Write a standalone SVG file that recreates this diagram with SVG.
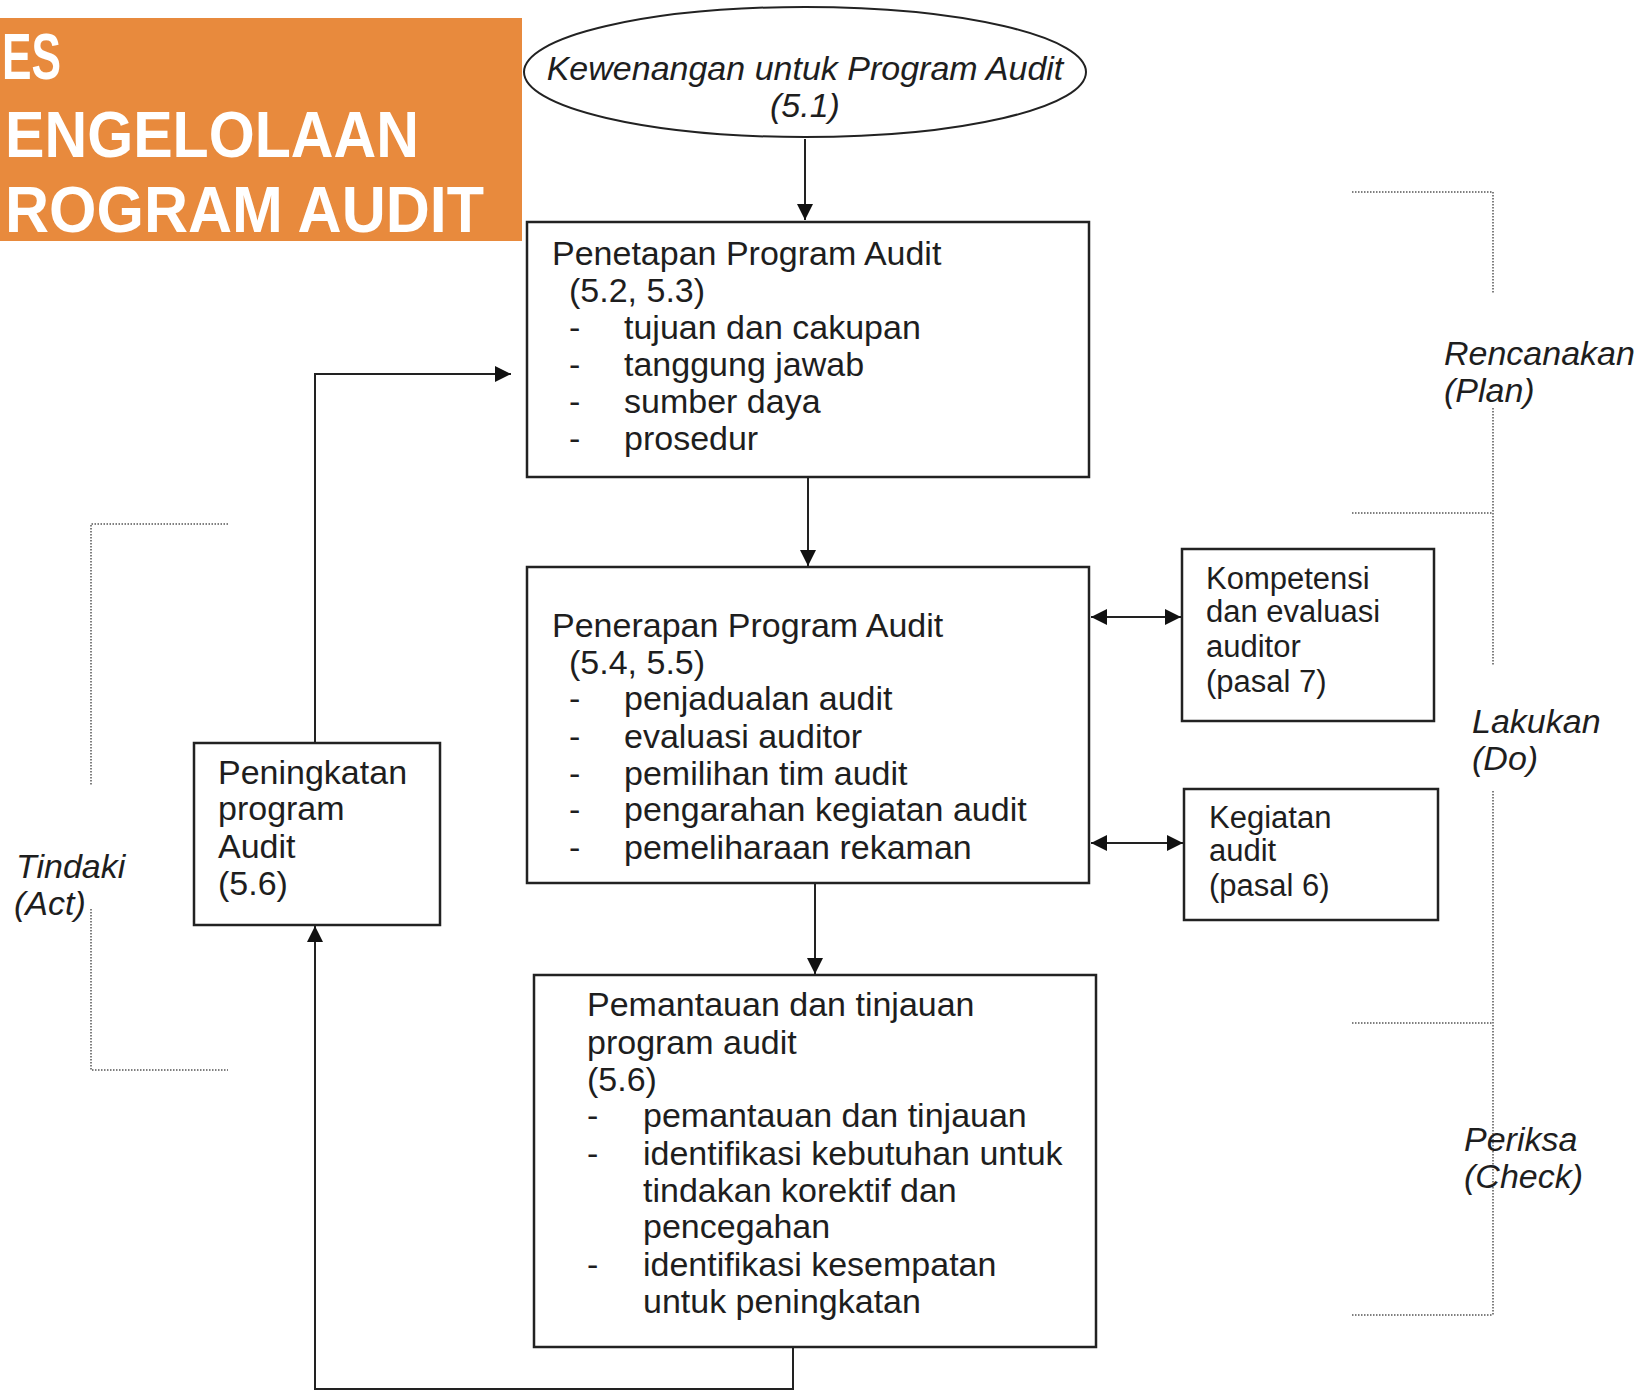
<svg xmlns="http://www.w3.org/2000/svg" width="1643" height="1390" viewBox="0 0 1643 1390">
<style>
.t{font-family:"Liberation Sans",Arial,sans-serif;font-size:34px;fill:#1e1e1e}
.s{font-family:"Liberation Sans",Arial,sans-serif;font-size:31px;fill:#1e1e1e}
.i{font-family:"Liberation Sans",Arial,sans-serif;font-size:34px;font-style:italic;fill:#1e1e1e}
.b{fill:#fff;stroke:#222;stroke-width:2.5}
.c{fill:none;stroke:#222;stroke-width:2}
.d{fill:none;stroke:#555;stroke-width:1.5;stroke-dasharray:1.5 1.5}
.h{font-family:"Liberation Sans",Arial,sans-serif;font-weight:bold;font-size:64px;fill:#fff}
</style>
<defs>
<marker id="ah" viewBox="0 0 10 10" refX="10" refY="5" markerWidth="16" markerHeight="16" markerUnits="userSpaceOnUse" orient="auto-start-reverse"><path d="M0,0L10,5L0,10z" fill="#111"/></marker>
</defs>
<rect width="1643" height="1390" fill="#fff"/>
<g id="banner">
<rect x="0" y="18" width="522" height="223" fill="#E88A3D"/>
<text class="h" x="2" y="79" textLength="59" lengthAdjust="spacingAndGlyphs">ES</text>
<text class="h" x="5" y="157" textLength="414" lengthAdjust="spacingAndGlyphs">ENGELOLAAN</text>
<text class="h" x="5" y="232" textLength="479" lengthAdjust="spacingAndGlyphs">ROGRAM AUDIT</text>
</g>
<g id="connectors">
<line class="c" x1="805" y1="139" x2="805" y2="220" marker-end="url(#ah)"/>
<line class="c" x1="808" y1="477" x2="808" y2="566" marker-end="url(#ah)"/>
<line class="c" x1="815" y1="883" x2="815" y2="974" marker-end="url(#ah)"/>
<line class="c" x1="1091" y1="617" x2="1181" y2="617" marker-start="url(#ah)" marker-end="url(#ah)"/>
<line class="c" x1="1091" y1="843" x2="1183" y2="843" marker-start="url(#ah)" marker-end="url(#ah)"/>
<polyline class="c" points="315,743 315,374 511,374" marker-end="url(#ah)"/>
<polyline class="c" points="793,1347 793,1389 315,1389 315,926" marker-end="url(#ah)"/>
</g>
<g id="authority">
<ellipse cx="805" cy="72" rx="281" ry="65" fill="#fff" stroke="#222" stroke-width="2"/>
<text class="i" x="805" y="80" text-anchor="middle">Kewenangan untuk Program Audit</text>
<text class="i" x="805" y="117" text-anchor="middle">(5.1)</text>
</g>
<g id="penetapan">
<rect class="b" x="527" y="222" width="562" height="255"/>
<text class="t" x="552" y="265">Penetapan Program Audit</text>
<text class="t" x="569" y="302">(5.2, 5.3)</text>
<text class="t" x="569" y="339">-</text><text class="t" x="624" y="339">tujuan dan cakupan</text>
<text class="t" x="569" y="376">-</text><text class="t" x="624" y="376">tanggung jawab</text>
<text class="t" x="569" y="413">-</text><text class="t" x="624" y="413">sumber daya</text>
<text class="t" x="569" y="450">-</text><text class="t" x="624" y="450">prosedur</text>
</g>
<g id="penerapan">
<rect class="b" x="527" y="567" width="562" height="316"/>
<text class="t" x="552" y="637">Penerapan Program Audit</text>
<text class="t" x="569" y="674">(5.4, 5.5)</text>
<text class="t" x="569" y="710">-</text><text class="t" x="624" y="710">penjadualan audit</text>
<text class="t" x="569" y="748">-</text><text class="t" x="624" y="748">evaluasi auditor</text>
<text class="t" x="569" y="785">-</text><text class="t" x="624" y="785">pemilihan tim audit</text>
<text class="t" x="569" y="821">-</text><text class="t" x="624" y="821">pengarahan kegiatan audit</text>
<text class="t" x="569" y="859">-</text><text class="t" x="624" y="859">pemeliharaan rekaman</text>
</g>
<g id="kompetensi">
<rect class="b" x="1182" y="549" width="252" height="172"/>
<text class="s" x="1206" y="589">Kompetensi</text>
<text class="s" x="1206" y="622">dan evaluasi</text>
<text class="s" x="1206" y="657">auditor</text>
<text class="s" x="1206" y="692">(pasal 7)</text>
</g>
<g id="kegiatan">
<rect class="b" x="1184" y="789" width="254" height="131"/>
<text class="s" x="1209" y="828">Kegiatan</text>
<text class="s" x="1209" y="861">audit</text>
<text class="s" x="1209" y="896">(pasal 6)</text>
</g>
<g id="pemantauan">
<rect class="b" x="534" y="975" width="562" height="372"/>
<text class="t" x="587" y="1016">Pemantauan dan tinjauan</text>
<text class="t" x="587" y="1054">program audit</text>
<text class="t" x="587" y="1091">(5.6)</text>
<text class="t" x="587" y="1127">-</text><text class="t" x="643" y="1127">pemantauan dan tinjauan</text>
<text class="t" x="587" y="1165">-</text><text class="t" x="643" y="1165">identifikasi kebutuhan untuk</text>
<text class="t" x="643" y="1202">tindakan korektif dan</text>
<text class="t" x="643" y="1238">pencegahan</text>
<text class="t" x="587" y="1276">-</text><text class="t" x="643" y="1276">identifikasi kesempatan</text>
<text class="t" x="643" y="1313">untuk peningkatan</text>
</g>
<g id="peningkatan">
<rect class="b" x="194" y="743" width="246" height="182"/>
<text class="t" x="218" y="784">Peningkatan</text>
<text class="t" x="218" y="820">program</text>
<text class="t" x="218" y="858">Audit</text>
<text class="t" x="218" y="895">(5.6)</text>
</g>
<g id="pdca">
<polyline class="d" points="1352,192 1493,192 1493,293"/>
<line class="d" x1="1493" y1="408" x2="1493" y2="665"/>
<line class="d" x1="1352" y1="513" x2="1493" y2="513"/>
<line class="d" x1="1493" y1="791" x2="1493" y2="1315"/>
<line class="d" x1="1352" y1="1023" x2="1493" y2="1023"/>
<line class="d" x1="1352" y1="1315" x2="1493" y2="1315"/>
<polyline class="d" points="228,524 91,524 91,786"/>
<polyline class="d" points="91,909 91,1070 228,1070"/>
<text class="i" x="1444" y="365">Rencanakan</text>
<text class="i" x="1444" y="402">(Plan)</text>
<text class="i" x="1472" y="733">Lakukan</text>
<text class="i" x="1472" y="770">(Do)</text>
<text class="i" x="1464" y="1151">Periksa</text>
<text class="i" x="1464" y="1188">(Check)</text>
<text class="i" x="16" y="878">Tindaki</text>
<text class="i" x="14" y="915">(Act)</text>
</g>
</svg>
